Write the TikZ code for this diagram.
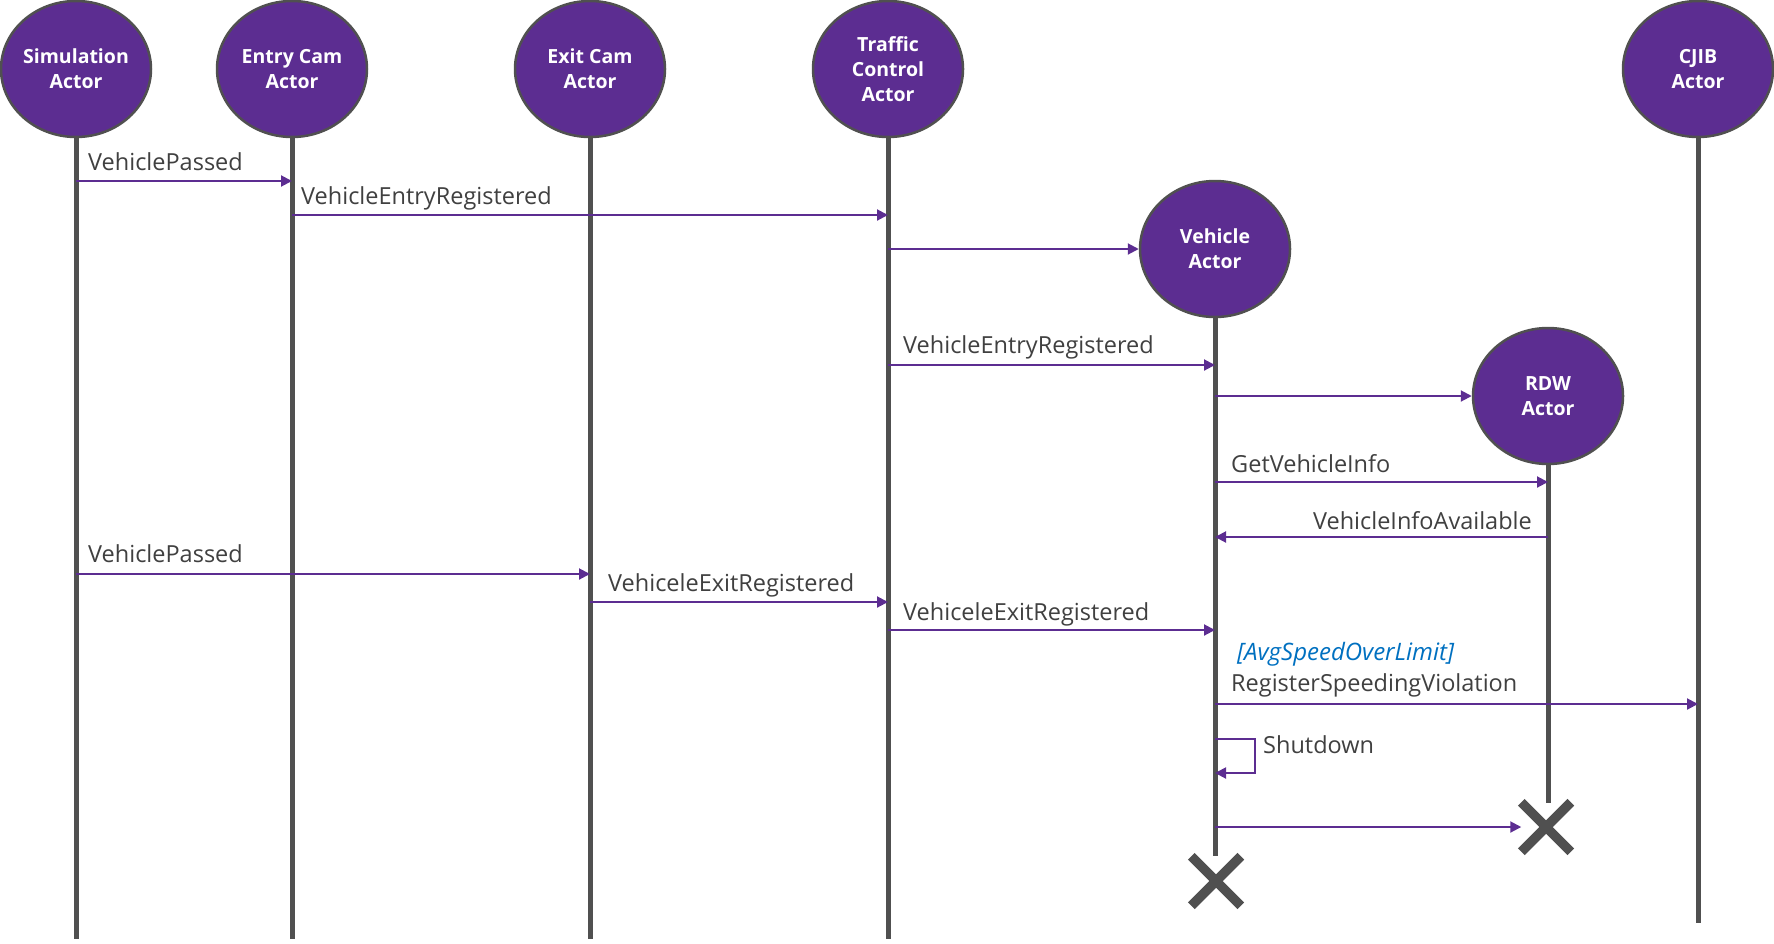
\documentclass[tikz,border=0pt]{standalone}
\usepackage{fontspec}
\setmainfont{Open Sans}
\usetikzlibrary{arrows.meta,shapes.misc,shapes.geometric}
\definecolor{actpurple}{HTML}{5C2D91}
\definecolor{lifegray}{HTML}{505050}
\definecolor{labgray}{HTML}{404040}
\definecolor{condblue}{HTML}{0070C0}
\tikzset{
  actor/.style={ellipse, draw=lifegray, line width=2.5pt, fill=actpurple,
    minimum width=150pt, minimum height=136pt, inner sep=0pt, text=white,
    font=\fontsize{19.5}{25}\selectfont\bfseries, align=center},
  lifeline/.style={draw=lifegray, line width=5pt},
  msg/.style={draw=actpurple, line width=2pt, -{Triangle[length=11pt,width=11pt]}},
  msglabel/.style={text=labgray, font=\fontsize{23.5}{28}\selectfont, inner sep=0pt},
  condlabel/.style={text=condblue, font=\fontsize{24}{28}\selectfont\itshape, inner sep=0pt},
  killmark/.style={cross out, draw=lifegray, line width=9.5pt, minimum size=40pt, inner sep=0pt}
}
\begin{document}
\begin{tikzpicture}[x=1pt,y=-1pt]
\useasboundingbox (0,0) rectangle (1774,943);
% actors
\node[actor] (sim) at (76,69) {Simulation\\Actor};
\node[actor] (entry) at (292,69) {Entry Cam\\Actor};
\node[actor] (exit) at (590,69) {Exit Cam\\Actor};
\node[actor] (traffic) at (888,69) {Traffic\\Control\\Actor};
\node[actor] (cjib) at (1698,69) {CJIB\\Actor};
\node[actor] (vehicle) at (1215,249) {Vehicle\\Actor};
\node[actor] (rdw) at (1548,396) {RDW\\Actor};
% ends of lifelines
\coordinate (yend) at (0,939);
\coordinate (cjibend) at (0,923);
\coordinate (vehend) at (0,856);
\coordinate (rdwend) at (0,803);
\path[lifeline] (sim.south) -- (sim |- yend);
\path[lifeline] (entry.south) -- (entry |- yend);
\path[lifeline] (exit.south) -- (exit |- yend);
\path[lifeline] (traffic.south) -- (traffic |- yend);
\path[lifeline] (cjib.south) -- (cjib |- cjibend);
\path[lifeline] (vehicle.south) -- (vehicle |- vehend);
\path[lifeline] (rdw.south) -- (rdw |- rdwend);
% kill marks
\node[killmark] (rdwx) at (1546,827) {};
\node[killmark] (vehx) at (1216,881) {};
% message rows
\coordinate (y1) at (0,181);
\coordinate (y2) at (0,215);
\coordinate (y4) at (0,365);
\coordinate (y6) at (0,482);
\coordinate (y7) at (0,537);
\coordinate (y8) at (0,574);
\coordinate (y9) at (0,602);
\coordinate (y10) at (0,630);
\coordinate (y11) at (0,704);
\coordinate (ys1) at (0,739);
\coordinate (ys2) at (0,773);
\coordinate (loopx) at (1255,0);
% messages
\draw[msg] (sim |- y1) -- (entry |- y1);
\draw[msg] (entry |- y2) -- (traffic |- y2);
\draw[msg] (traffic |- vehicle.west) -- (vehicle.west);
\draw[msg] (traffic |- y4) -- (vehicle |- y4);
\draw[msg] (vehicle |- rdw.west) -- (rdw.west);
\draw[msg] (vehicle |- y6) -- (rdw |- y6);
\draw[msg] (rdw |- y7) -- (vehicle |- y7);
\draw[msg] (sim |- y8) -- (exit |- y8);
\draw[msg] (exit |- y9) -- (traffic |- y9);
\draw[msg] (traffic |- y10) -- (vehicle |- y10);
\draw[msg] (vehicle |- y11) -- (cjib |- y11);
\draw[msg] (vehicle |- ys1) -- (loopx |- ys1) -- (loopx |- ys2) -- (vehicle |- ys2);
\draw[msg] (vehicle |- rdwx.west) -- (rdwx.west);
% labels
\node[msglabel, anchor=west] (l1) at (88,162) {VehiclePassed};
\node[msglabel, anchor=west] (l2) at (301,198) {VehicleEntryRegistered};
\node[msglabel, anchor=west] (l4) at (903,347) {VehicleEntryRegistered};
\node[msglabel, anchor=west] (l6) at (1231,464) {GetVehicleInfo};
\node[msglabel, anchor=east] (l7) at (1532,521) {VehicleInfoAvailable};
\node[msglabel, anchor=west] (l8) at (88,554) {VehiclePassed};
\node[msglabel, anchor=west] (l9) at (608,585) {VehiceleExitRegistered};
\node[msglabel, anchor=west] (l10) at (903,614) {VehiceleExitRegistered};
\node[condlabel, anchor=west] (l11a) at (1237,654) {[AvgSpeedOverLimit]};
\node[msglabel, anchor=west] (l11b) at (1231,685) {RegisterSpeedingViolation};
\node[msglabel, anchor=west] (ls) at (1263,745) {Shutdown};
\end{tikzpicture}
\end{document}
